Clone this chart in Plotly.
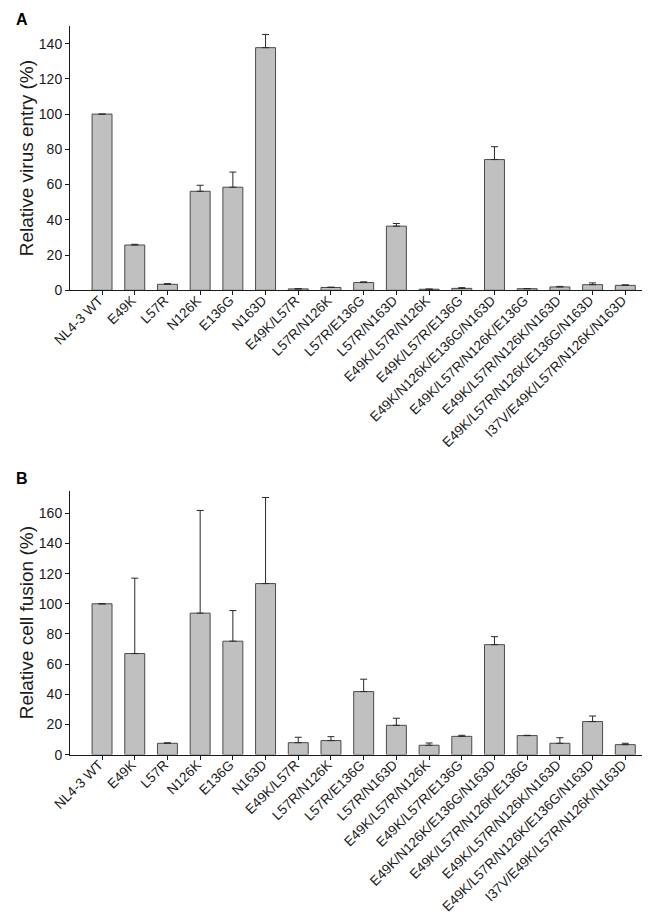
import plotly.graph_objects as go

categories = ["NL4-3 WT", "E49K", "L57R", "N126K", "E136G", "N163D", "E49K/L57R",
              "L57R/N126K", "L57R/E136G", "L57R/N163D", "E49K/L57R/N126K",
              "E49K/L57R/E136G", "E49K/N126K/E136G/N163D", "E49K/L57R/N126K/E136G",
              "E49K/L57R/N126K/N163D", "E49K/L57R/N126K/E136G/N163D",
              "I37V/E49K/L57R/N126K/N163D"]

virus_entry = [100, 25.7, 3.4, 56.2, 58.5, 137.7, 0.8, 1.6, 4.4, 36.4, 0.6, 1.1, 74.2, 0.9, 1.9, 3.2, 2.8]
virus_entry_err = [0, 0.4, 0.4, 3.4, 8.6, 7.5, 0.1, 0.2, 0.4, 1.5, 0.1, 0.4, 7.3, 0.1, 0.3, 1.0, 0.3]

cell_fusion = [100, 67, 7.5, 93.8, 75.2, 113.4, 7.9, 9.3, 41.8, 19.4, 6.2, 12.1, 72.9, 12.6, 7.5, 21.9, 6.6]
cell_fusion_err = [0, 50, 0.3, 68.1, 20.3, 57.1, 3.6, 2.6, 8.2, 4.7, 1.5, 0.7, 5.3, 0.2, 3.7, 3.7, 0.9]

yticks_A = [0, 20, 40, 60, 80, 100, 120, 140]
yticks_B = [0, 20, 40, 60, 80, 100, 120, 140, 160]

W, H = 650, 917
FONT = "Arial, Liberation Sans, sans-serif"
zeros = [0] * len(categories)

fig = go.Figure()
for vals, errs, xa, ya in [(virus_entry, virus_entry_err, "x", "y"),
                           (cell_fusion, cell_fusion_err, "x2", "y2")]:
    fig.add_trace(go.Bar(
        x=categories, y=vals, xaxis=xa, yaxis=ya, width=0.61,
        marker=dict(color="#c0c0c0", line=dict(color="#4a4a4a", width=1)),
        error_y=dict(type="data", symmetric=False, array=errs, arrayminus=zeros,
                     color="#2a2a2a", thickness=1, width=3.5),
        showlegend=False, hoverinfo="x+y"))

x0 = 62 / W
domA = [1 - 282.3 / H, 1 - 18 / H]
domB = [1 - 746.6 / H, 1 - 482.7 / H]

xcommon = dict(type="category", range=[-0.98, 17.0], showline=True, linecolor="#1a1a1a",
               linewidth=1, ticks="outside", ticklen=4, tickcolor="#1a1a1a", tickangle=-45,
               showgrid=False, zeroline=False, automargin=False,
               ticklabelstandoff=-8, ticklabelshift=-3,
               tickfont=dict(family=FONT, size=13.6, color="#1a1a1a"),
               domain=[x0, 1.0])
ycommon = dict(showline=True, linecolor="#1a1a1a", linewidth=1, ticks="outside", ticklen=4,
               tickcolor="#1a1a1a", showgrid=False, zeroline=False, automargin=False,
               tickfont=dict(family=FONT, size=14, color="#1a1a1a"))

fig.update_layout(
    width=W, height=H, margin=dict(l=0, r=0, t=0, b=0),
    paper_bgcolor="white", plot_bgcolor="white", bargap=0.39,
    xaxis=dict(xcommon, anchor="y"),
    yaxis=dict(ycommon, domain=domA, range=[0, 150], tickvals=yticks_A, anchor="x",
               title=dict(text="Relative virus entry (%)", standoff=0,
                          font=dict(family=FONT, size=19, color="#1a1a1a"))),
    xaxis2=dict(xcommon, anchor="y2"),
    yaxis2=dict(ycommon, domain=domB, range=[0, 175], tickvals=yticks_B, anchor="x2",
                title=dict(text="Relative cell fusion (%)", standoff=0,
                           font=dict(family=FONT, size=19, color="#1a1a1a"))),
    annotations=[
        dict(text="<b>A</b>", x=6 / W, y=1 - 1 / H, xref="paper", yref="paper",
             xanchor="left", yanchor="top", showarrow=False,
             font=dict(family=FONT, size=16, color="black")),
        dict(text="<b>B</b>", x=6 / W, y=1 - 460 / H, xref="paper", yref="paper",
             xanchor="left", yanchor="top", showarrow=False,
             font=dict(family=FONT, size=16, color="black")),
    ],
)

fig.write_html("out.html")
